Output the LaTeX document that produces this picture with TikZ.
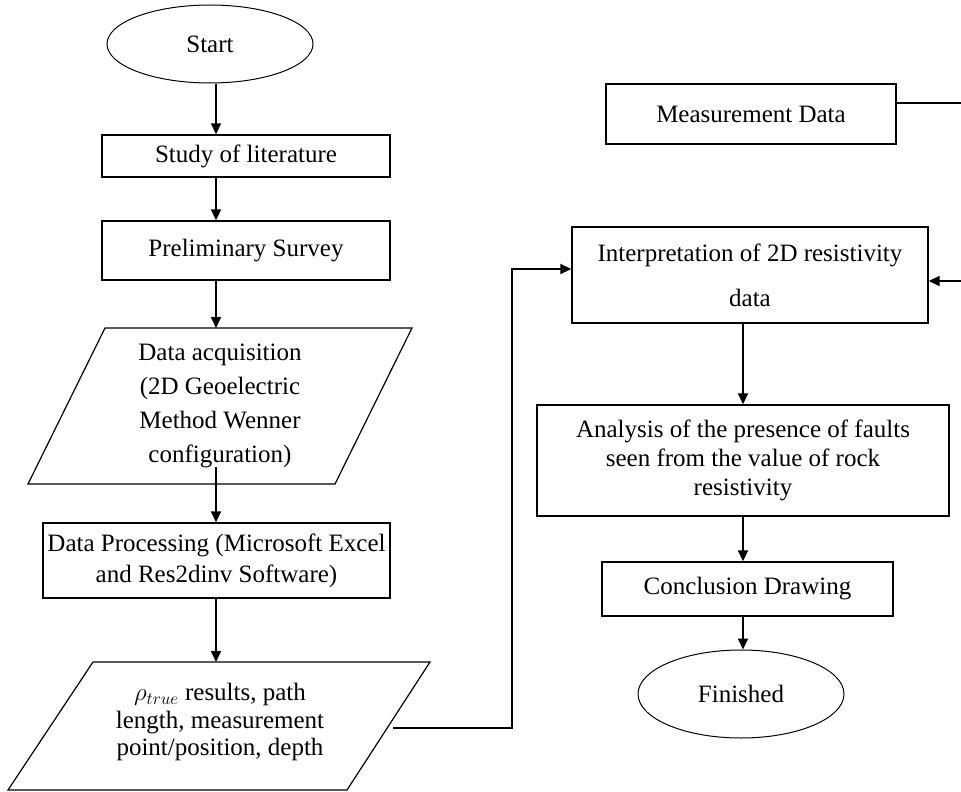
\documentclass[tikz,border=0pt]{standalone}
\usepackage{fontspec}
\setmainfont{Liberation Serif}
\usetikzlibrary{shapes.geometric,arrows.meta}
\begin{document}
\begin{tikzpicture}[x=1pt,y=-1pt,
  txt/.style={inner sep=0pt, align=center, font=\fontsize{25}{29}\selectfont},
  box/.style={txt, draw, line width=1.4pt},
  oval/.style={txt, draw, ellipse, line width=1pt},
  para/.style={line width=1.2pt},
  arr/.style={line width=1.8pt, -{Triangle[length=11pt,width=10pt]}},
  ln/.style={line width=1.8pt}]
\useasboundingbox (0,0) rectangle (961,792);

% left column
\node[oval, minimum width=206pt, minimum height=78pt] (start) at (210,44) {Start};
\node[box, minimum width=288pt, minimum height=42pt] (study) at (246,156) {Study of literature};
\node[box, minimum width=288pt, minimum height=59pt] (prelim) at (246,250.5) {Preliminary Survey};
\draw[para] (105,328) -- (412,328) -- (335,484) -- (28,484) -- cycle;
\node[txt, font=\fontsize{25}{34}\selectfont, minimum height=156pt] (acq) at (220,406)
  {Data acquisition\\(2D Geoelectric\\Method Wenner\\configuration)};
\node[box, minimum width=347pt, minimum height=75pt, font=\fontsize{25}{31}\selectfont] (proc) at (216.5,560.5)
  {Data Processing (Microsoft Excel\\and Res2dinv Software)};
\draw[para] (93,662) -- (430,662) -- (347,790) -- (8,790) -- cycle;
\node[txt, font=\fontsize{25}{27.5}\selectfont] (res) at (220,722)
  {$\rho_{true}$\ results, path\\length, measurement\\point/position, depth};
\coordinate (resTop) at (220,662);
\coordinate (acqOut) at (216,467);

% right column
\node[box, minimum width=290pt, minimum height=60pt] (meas) at (751,114) {Measurement Data};
\node[box, minimum width=356pt, minimum height=96pt] (interp) at (750,275)
  {Interpretation of 2D resistivity\\[16pt]data};
\node[box, minimum width=412pt, minimum height=111pt] (anal) at (743,460.5)
  {Analysis of the presence of faults\\seen from the value of rock\\resistivity};
\node[box, minimum width=291pt, minimum height=54pt] (concl) at (747.5,589) {Conclusion Drawing};
\node[oval, minimum width=206pt, minimum height=88pt] (fin) at (741,694) {Finished};

% helper coordinates
\coordinate (lc) at (216,0);
\coordinate (rc) at (743,0);
\coordinate (measOut) at (961,103);
\coordinate (interpIn) at (961,281);
\coordinate (rs) at (393,728);
\coordinate (bend) at (512,269);

% left connectors
\draw[arr] (start.south -| lc) -- (study.north -| lc);
\draw[arr] (study.south -| lc) -- (prelim.north -| lc);
\draw[arr] (prelim.south -| lc) -- (lc |- 0,328);
\draw[arr] (acqOut) -- (proc.north -| acqOut);
\draw[arr] (proc.south -| lc) -- (resTop -| lc);
\draw[arr] (rs) -| (bend) -- (interp.west |- bend);

% right connectors
\draw[ln] (meas.east |- measOut) -- (measOut);
\draw[arr] (interpIn) -- (interp.east |- interpIn);
\draw[arr] (interp.south -| rc) -- (anal.north -| rc);
\draw[arr] (anal.south -| rc) -- (concl.north -| rc);
\draw[arr] (concl.south -| rc) -- (fin.north -| rc);
\end{tikzpicture}
\end{document}
